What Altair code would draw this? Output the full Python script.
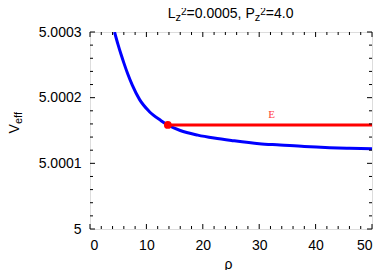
import altair as alt
import pandas as pd

# ---- data ----
rho = [4.35, 5.0, 5.5, 6.0, 6.7, 7.5, 8.8, 10.5, 12.6, 13.8, 16.0, 19.1, 22.0,
       25.4, 30.0, 33.7, 38.0, 42.5, 46.0, 50.0]
veff = [5.00030, 5.000280, 5.000266, 5.000253, 5.000236, 5.000219, 5.000197,
        5.000179, 5.000165, 5.0001584, 5.000150, 5.000143, 5.0001385,
        5.0001345, 5.000130, 5.000128, 5.0001255, 5.0001238, 5.000123, 5.0001223]
E_value = 5.0001584
E_rho = [13.8, 50.0]
E_label = ["E"]
E_label_x = [32.2]
E_label_y = [5.000174]

x_major = [0, 10, 20, 30, 40, 50]
x_minor = [v for v in range(2, 50, 2) if v % 10 != 0]
y_major = [5.0, 5.0001, 5.0002, 5.0003]
y_minor = [5.00002, 5.00004, 5.00006, 5.00008,
           5.00012, 5.00014, 5.00016, 5.00018,
           5.00022, 5.00024, 5.00026, 5.00028]

W, H = 282, 197
FONT = "Liberation Sans"

xs = alt.Scale(domain=[0, 50], nice=False, zero=False)
ys = alt.Scale(domain=[5.0, 5.0003], nice=False, zero=False)
xax = alt.Axis(values=x_major, title=None, ticks=False, domain=False, grid=False,
               labelFontSize=14, labelFont=FONT, labelColor="black", labelPadding=9,
               format="d")
yax = alt.Axis(values=y_major, title=None, ticks=False, domain=False, grid=False,
               labelFontSize=14, labelFont=FONT, labelColor="black", labelPadding=9,
               format=".4~f")

def X(f):
    return alt.X(f, scale=xs, axis=xax)

def Y(f):
    return alt.Y(f, scale=ys, axis=yax)

curve_df = pd.DataFrame({"rho": rho, "V": veff})
line_df = pd.DataFrame({"rho": E_rho, "V": [E_value, E_value]})
dot_df = pd.DataFrame({"rho": [E_rho[0]], "V": [E_value]})
lab_df = pd.DataFrame({"rho": E_label_x, "V": E_label_y, "t": E_label})

curve = alt.Chart(curve_df).mark_line(color="#0000ff", strokeWidth=3, clip=True,
                                      interpolate="monotone").encode(
    x=X("rho:Q"), y=Y("V:Q"))
eline = alt.Chart(line_df).mark_line(color="#ff0000", strokeWidth=3).encode(
    x=X("rho:Q"), y=Y("V:Q"))
edot = alt.Chart(dot_df).mark_circle(color="#ff0000", opacity=1, size=60).encode(
    x=X("rho:Q"), y=Y("V:Q"))
elab = alt.Chart(lab_df).mark_text(color="#ff4040", font="Liberation Serif", fontSize=11,
                                   baseline="middle", align="center").encode(
    x=X("rho:Q"), y=Y("V:Q"), text="t:N")

def xticks(vals, y0, y1):
    return alt.Chart(pd.DataFrame({"t": vals})).mark_rule(color="black", strokeWidth=1).encode(
        x=X("t:Q"), y=alt.value(y0), y2=alt.value(y1))

def yticks(vals, x0, x1):
    return alt.Chart(pd.DataFrame({"t": vals})).mark_rule(color="black", strokeWidth=1).encode(
        y=Y("t:Q"), x=alt.value(x0), x2=alt.value(x1))

ticks = [
    xticks(x_major, H, H - 5), xticks(x_minor, H, H - 3),
    xticks(x_major, 0, 5), xticks(x_minor, 0, 3),
    yticks(y_major, 0, 5), yticks(y_minor, 0, 3),
    yticks(y_major, W, W - 5), yticks(y_minor, W, W - 3),
]

def txt(s, x, y, size=14, angle=0):
    kw = dict(text=s, font=FONT, fontSize=size, align="left", baseline="alphabetic", color="black")
    if angle:
        kw["angle"] = angle
    return alt.Chart(alt.Data(values=[{}])).mark_text(**kw).encode(
        x=alt.value(x), y=alt.value(y))

title_parts = [
    txt("L", 77.7, -13.8),
    txt("z", 85.5, -11.0, 11),
    txt("2", 91.0, -16.6, 10),
    txt("=0.0005, P", 96.6, -13.8),
    txt("z", 164.7, -11.0, 11),
    txt("2", 170.2, -16.6, 10),
    txt("=4.0", 175.8, -13.8),
    # y axis title V_eff
    txt("V", -71.5, 101.5, 14, 270),
    txt("eff", -68.5, 92.0, 11, 270),
]
rho_title = alt.Chart(alt.Data(values=[{}])).mark_text(
    text="ρ", font=FONT, fontSize=14, align="center", baseline="alphabetic", color="black"
).encode(x=alt.value(138.5), y=alt.value(236.5))

chart = alt.layer(curve, eline, edot, elab, *ticks, *title_parts, rho_title).properties(
    width=W, height=H,
    padding={"left": 82, "top": 24, "right": 2, "bottom": 41},
    autosize=alt.AutoSizeParams(type="none"),
).configure_view(stroke="black", strokeWidth=1).configure(background="white")

chart.save("out.html", embed_options={"renderer": "svg", "actions": False})
